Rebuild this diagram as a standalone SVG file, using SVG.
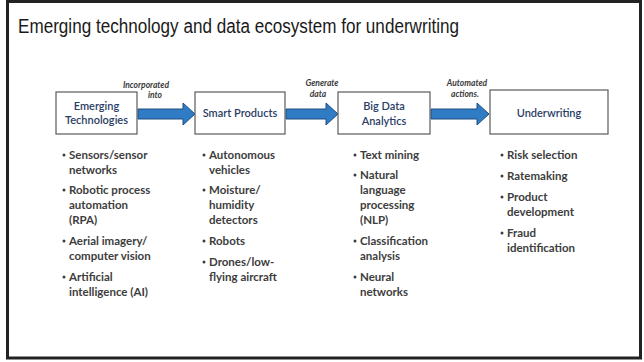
<svg xmlns="http://www.w3.org/2000/svg" width="644" height="362" viewBox="0 0 644 362">
  <style>
    .title { font-family: "Liberation Sans", Arial, sans-serif; font-size: 20px; fill: #1a1a1a; }
    .box { fill: #ffffff; stroke: #5a5a5a; stroke-width: 1.2; }
    .boxlabel { font-family: Lato, "Liberation Sans", sans-serif; font-size: 11px; font-weight: 600; fill: #2b3d66; text-anchor: middle; }
    .flow { fill: #2f7bc4; stroke: #1f4f82; stroke-width: 1; }
    .flowlabel { font-family: Lato, "Liberation Sans", sans-serif; font-size: 8.5px; font-style: italic; font-weight: bold; fill: #3a3a3a; text-anchor: middle; }
    .item { font-family: Lato, "Liberation Sans", sans-serif; font-size: 11.5px; font-weight: bold; fill: #3d3d3d; }
    .dot { fill: #3d3d3d; }
  </style>

  <!-- slide background and frame -->
  <rect x="0" y="0" width="644" height="362" fill="#ffffff"/>
  <rect x="7.5" y="1.5" width="633" height="356.5" fill="none" stroke="#222222" stroke-width="3"/>

  <text class="title" x="18" y="33" textLength="441" lengthAdjust="spacingAndGlyphs">Emerging technology and data ecosystem for underwriting</text>

  <!-- connectors -->
  <g id="connectors">
    <polygon class="flow" points="138,109 183,109 183,103 195,114 183,125 183,119 138,119"/>
    <polygon class="flow" points="286,109 326,109 326,103 338,114 326,125 326,119 286,119"/>
    <polygon class="flow" points="431,109 477,109 477,103 489,114 477,125 477,119 431,119"/>
    <text class="flowlabel" x="146" y="88">Incorporated</text>
    <text class="flowlabel" x="155" y="98">into</text>
    <text class="flowlabel" x="322" y="86">Generate</text>
    <text class="flowlabel" x="318" y="97">data</text>
    <text class="flowlabel" x="467" y="86">Automated</text>
    <text class="flowlabel" x="465" y="97">actions.</text>
  </g>

  <!-- stage nodes -->
  <g id="emerging-technologies">
    <rect class="box" x="56" y="92" width="81" height="42"/>
    <text class="boxlabel" x="96.5" y="110">Emerging</text>
    <text class="boxlabel" x="96.5" y="124">Technologies</text>
  </g>
  <g id="smart-products">
    <rect class="box" x="195" y="92" width="90" height="42"/>
    <text class="boxlabel" x="240" y="117">Smart Products</text>
  </g>
  <g id="big-data-analytics">
    <rect class="box" x="338" y="92" width="92" height="42"/>
    <text class="boxlabel" x="384" y="110">Big Data</text>
    <text class="boxlabel" x="384" y="125">Analytics</text>
  </g>
  <g id="underwriting">
    <rect class="box" x="490" y="90" width="118" height="44"/>
    <text class="boxlabel" x="549" y="117">Underwriting</text>
  </g>

  <!-- bullet lists under each stage -->
  <g id="list-emerging">
    <circle class="dot" cx="64" cy="155" r="1.5"/>
    <text class="item" x="69" y="159">Sensors/sensor</text>
    <text class="item" x="69" y="174">networks</text>
    <circle class="dot" cx="64" cy="190" r="1.5"/>
    <text class="item" x="69" y="194">Robotic process</text>
    <text class="item" x="69" y="209">automation</text>
    <text class="item" x="69" y="224">(RPA)</text>
    <circle class="dot" cx="64" cy="241" r="1.5"/>
    <text class="item" x="69" y="245">Aerial imagery/</text>
    <text class="item" x="69" y="260">computer vision</text>
    <circle class="dot" cx="64" cy="277" r="1.5"/>
    <text class="item" x="69" y="281">Artificial</text>
    <text class="item" x="69" y="296">intelligence (AI)</text>
  </g>
  <g id="list-smart">
    <circle class="dot" cx="204" cy="155" r="1.5"/>
    <text class="item" x="209" y="159">Autonomous</text>
    <text class="item" x="209" y="174">vehicles</text>
    <circle class="dot" cx="204" cy="190" r="1.5"/>
    <text class="item" x="209" y="194">Moisture/</text>
    <text class="item" x="209" y="209">humidity</text>
    <text class="item" x="209" y="224">detectors</text>
    <circle class="dot" cx="204" cy="241" r="1.5"/>
    <text class="item" x="209" y="245">Robots</text>
    <circle class="dot" cx="204" cy="262" r="1.5"/>
    <text class="item" x="209" y="266">Drones/low-</text>
    <text class="item" x="209" y="281">flying aircraft</text>
  </g>
  <g id="list-analytics">
    <circle class="dot" cx="355" cy="155" r="1.5"/>
    <text class="item" x="360" y="159">Text mining</text>
    <circle class="dot" cx="355" cy="175" r="1.5"/>
    <text class="item" x="360" y="179">Natural</text>
    <text class="item" x="360" y="194">language</text>
    <text class="item" x="360" y="209">processing</text>
    <text class="item" x="360" y="224">(NLP)</text>
    <circle class="dot" cx="355" cy="241" r="1.5"/>
    <text class="item" x="360" y="245">Classification</text>
    <text class="item" x="360" y="260">analysis</text>
    <circle class="dot" cx="355" cy="277" r="1.5"/>
    <text class="item" x="360" y="281">Neural</text>
    <text class="item" x="360" y="296">networks</text>
  </g>
  <g id="list-underwriting">
    <circle class="dot" cx="502" cy="155" r="1.5"/>
    <text class="item" x="507" y="159">Risk selection</text>
    <circle class="dot" cx="502" cy="176" r="1.5"/>
    <text class="item" x="507" y="180">Ratemaking</text>
    <circle class="dot" cx="502" cy="197" r="1.5"/>
    <text class="item" x="507" y="201">Product</text>
    <text class="item" x="507" y="216">development</text>
    <circle class="dot" cx="502" cy="233" r="1.5"/>
    <text class="item" x="507" y="237">Fraud</text>
    <text class="item" x="507" y="252">identification</text>
  </g>
</svg>
